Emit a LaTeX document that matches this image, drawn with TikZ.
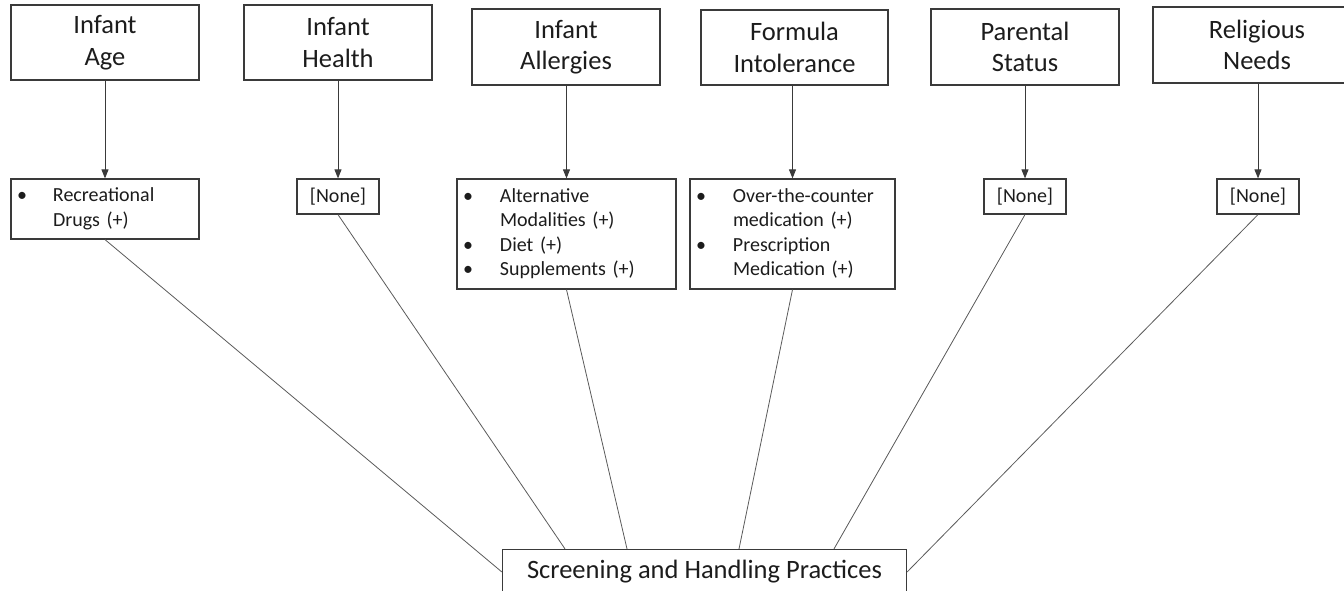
\documentclass[tikz,border=0pt]{standalone}
\usepackage{fontspec}
\setmainfont{Carlito}
\usetikzlibrary{arrows.meta}
\definecolor{ink}{HTML}{1C1C1C}
\definecolor{frame}{HTML}{3A3A3A}
\definecolor{wire}{HTML}{5A5A5A}
\newcommand{\bul}{\textbullet}
\begin{document}
\begin{tikzpicture}[x=1pt,y=-1pt,
  factor/.style={draw=frame,line width=1.2pt,inner sep=0pt,align=center,
    text=ink,font=\fontsize{26.5}{31.5}\selectfont},
  listbox/.style={draw=frame,line width=1.2pt,inner xsep=6pt,inner ysep=0pt,
    align=left,text=ink,font=\fontsize{20}{24.5}\selectfont},
  nonebox/.style={draw=frame,line width=1.2pt,inner sep=0pt,align=center,
    text=ink,font=\fontsize{20}{24.5}\selectfont,
    minimum width=82pt,minimum height=35pt},
  feed/.style={draw=frame,line width=0.9pt,-{Triangle[length=9pt,width=7pt]}},
  link/.style={draw=wire,line width=0.8pt}]
\useasboundingbox (0,0) rectangle (1344,591);

% factor boxes along the top
\node[factor,minimum width=188pt,minimum height=75pt] (age) at (105,42.5) {Infant\\Age};
\node[factor,minimum width=188pt,minimum height=75pt] (health) at (338,42.5) {Infant\\Health};
\node[factor,minimum width=188pt,minimum height=76pt] (allerg) at (566,47) {Infant\\Allergies};
\node[factor,minimum width=187pt,minimum height=75pt] (formula) at (794.5,47.5) {Formula\\Intolerance};
\node[factor,minimum width=188pt,minimum height=76pt] (parent) at (1025,47) {Parental\\Status};
\node[factor,minimum width=208pt,minimum height=76pt] (relig) at (1257,45) {Religious\\Needs};

% practices linked to each factor
\node[listbox,text width=176pt,minimum height=60pt] (drugs) at (105,209)
  {\begin{tabular}{@{}p{36pt}@{}l@{}}
   \bul & Recreational\\
        & Drugs (+)
   \end{tabular}};
\node[nonebox] (hnone) at (338,196.5) {[None]};
\node[listbox,text width=207pt,minimum height=110pt] (allist) at (566.5,234)
  {\begin{tabular}{@{}p{37pt}@{}l@{}}
   \bul & Alternative\\
        & Modalities (+)\\
   \bul & Diet (+)\\
   \bul & Supplements (+)
   \end{tabular}};
\node[listbox,text width=193pt,minimum height=110pt] (folist) at (792.5,234)
  {\begin{tabular}{@{}p{37pt}@{}l@{}}
   \bul & Over-the-counter\\
        & medication (+)\\
   \bul & Prescription\\
        & Medication (+)
   \end{tabular}};
\node[nonebox] (pnone) at (1025,196.5) {[None]};
\node[nonebox] (rnone) at (1258,196.5) {[None]};

% outcome box at the bottom
\node[factor,minimum width=404pt,minimum height=45pt] (scr) at (704.5,572)
  {Screening and Handling Practices};

% factor -> practice arrows
\foreach \a/\b in {age/drugs,health/hnone,allerg/allist,formula/folist,parent/pnone,relig/rnone}
  \draw[feed] (\a.south -| \b.north) -- (\b.north);

% practices -> outcome
\draw[link] (drugs.south) -- (scr.west);
\draw[link] (hnone.south) -- ([xshift=-139.5pt]scr.north);
\draw[link] (allist.south) -- ([xshift=-77.5pt]scr.north);
\draw[link] (folist.south) -- ([xshift=34.5pt]scr.north);
\draw[link] (pnone.south) -- ([xshift=129.5pt]scr.north);
\draw[link] (rnone.south) -- (scr.east);
\end{tikzpicture}
\end{document}
